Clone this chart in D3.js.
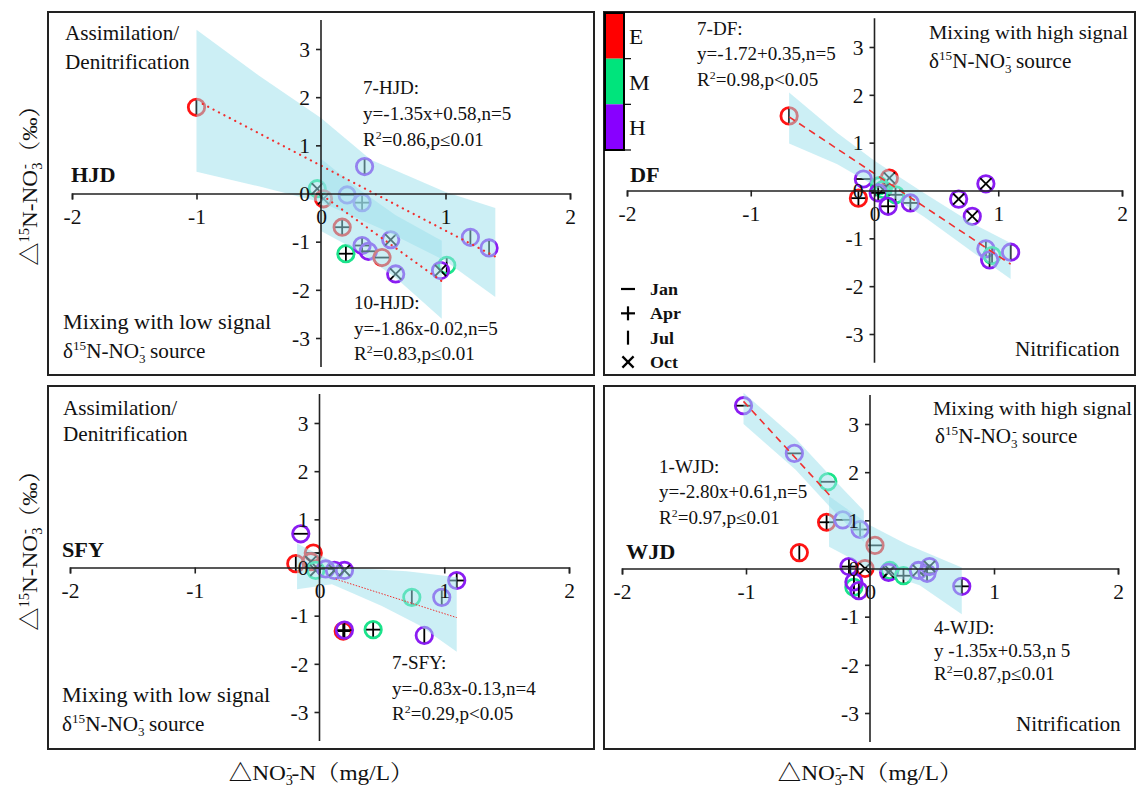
<!DOCTYPE html>
<html><head><meta charset="utf-8">
<script src="https://cdn.jsdelivr.net/npm/d3@7"></script>
<style>
body{margin:0;background:#fff}
svg{display:block}
text{font-family:"Liberation Serif","Times New Roman","Noto Serif CJK SC","Noto Sans CJK SC",serif;fill:#111}
</style>
</head><body>
<svg id="c" width="1136" height="787"></svg>
<script>
// ---------------- data ----------------
const xTicks = [-2, -1, 0, 1, 2];
const yTicks = [-3, -2, -1, 0, 1, 2, 3];
const levels = ['E', 'M', 'H'];
const levelColors = ['#ff1414', '#1be38b', '#8a1cf2'];
const barColors = ['#ff0000', '#00e47c', '#8800ff'];
const months = ['Jan', 'Apr', 'Jul', 'Oct'];

// [ΔNO3-N, Δ15N-NO3, level, month]
const hjdPoints = [
  [-1.00, 1.79, 'E', 'Jul'], [0.35, 0.56, 'H', 'Jul'], [-0.03, 0.10, 'M', 'Oct'],
  [0.02, -0.11, 'E', 'Oct'], [0.21, -0.03, 'H', 'Jan'], [0.33, -0.19, 'H', 'Apr'],
  [0.17, -0.70, 'E', 'Apr'], [0.20, -1.25, 'M', 'Apr'], [0.33, -1.08, 'H', 'Apr'],
  [0.38, -1.20, 'H', 'Jan'], [0.49, -1.33, 'E', 'Jan'], [0.56, -0.96, 'H', 'Oct'],
  [0.60, -1.67, 'H', 'Oct'], [1.01, -1.49, 'M', 'Jul'], [0.96, -1.60, 'H', 'Oct'],
  [1.20, -0.91, 'H', 'Jul'], [1.35, -1.13, 'H', 'Jul']
];
const dfPoints = [
  [-0.69, 1.56, 'E', 'Jul'], [-0.13, -0.16, 'E', 'Apr'], [-0.09, 0.24, 'H', 'Jan'],
  [0.12, 0.26, 'E', 'Oct'], [0.04, 0.10, 'M', 'Jan'], [0.07, 0.02, 'M', 'Oct'],
  [0.03, -0.05, 'H', 'Apr'], [0.17, -0.09, 'M', 'Apr'], [0.11, -0.33, 'H', 'Apr'],
  [0.29, -0.26, 'H', 'Apr'], [0.68, -0.18, 'H', 'Oct'], [0.79, -0.54, 'H', 'Oct'],
  [0.90, 0.14, 'H', 'Oct'], [0.90, -1.22, 'H', 'Jul'], [0.95, -1.36, 'M', 'Jul'],
  [0.93, -1.45, 'H', 'Jul'], [1.10, -1.29, 'H', 'Jul']
];
const sfyPoints = [
  [-0.15, 0.70, 'H', 'Jan'], [-0.05, 0.30, 'E', 'Jan'], [-0.19, 0.08, 'E', 'Jul'],
  [-0.07, 0.12, 'E', 'Oct'], [-0.03, -0.06, 'M', 'Oct'], [0.05, -0.03, 'H', 'Jan'],
  [0.12, -0.06, 'H', 'Oct'], [0.20, -0.06, 'H', 'Oct'], [1.10, -0.27, 'H', 'Apr'],
  [0.74, -0.62, 'M', 'Jul'], [0.98, -0.62, 'H', 'Jul'], [0.19, -1.32, 'E', 'Apr'],
  [0.20, -1.30, 'H', 'Apr'], [0.43, -1.29, 'M', 'Apr'], [0.84, -1.41, 'H', 'Jul']
];
const wjdPoints = [
  [-1.02, 3.38, 'H', 'Jan'], [-0.61, 2.39, 'H', 'Jan'], [-0.34, 1.80, 'M', 'Jan'],
  [-0.35, 0.96, 'E', 'Apr'], [-0.22, 1.01, 'H', 'Jan'], [-0.08, 0.81, 'H', 'Apr'],
  [0.04, 0.48, 'E', 'Jan'], [-0.57, 0.33, 'E', 'Jul'], [-0.17, 0.04, 'H', 'Apr'],
  [-0.04, 0.00, 'E', 'Oct'], [-0.13, -0.39, 'M', 'Jul'], [-0.13, -0.28, 'H', 'Jul'],
  [-0.09, -0.46, 'H', 'Jul'], [0.16, -0.04, 'M', 'Oct'], [0.15, -0.08, 'H', 'Oct'],
  [0.27, -0.15, 'M', 'Apr'], [0.39, -0.04, 'H', 'Oct'], [0.46, -0.10, 'H', 'Apr'],
  [0.48, 0.04, 'H', 'Oct'], [0.74, -0.37, 'H', 'Apr']
];

// confidence bands (upper / lower edges)
const hjdBand1Upper = [[-1, 3.4], [-0.5, 2.45], [0, 1.57], [0.4, 0.7], [1, 0.03], [1.4, -0.3]];
const hjdBand1Lower = [[-1, 0.45], [-0.5, 0.15], [0, -0.18], [0.5, -0.75], [1, -1.4], [1.4, -2.15]];
const hjdBand2Upper = [[0, 0.72], [0.3, 0.1], [0.6, -0.45], [0.97, -0.98]];
const hjdBand2Lower = [[0, -0.78], [0.3, -1.2], [0.6, -1.75], [0.97, -2.6]];
const dfBandUpper = [[-0.69, 2.05], [-0.3, 1.2], [0, 0.62], [0.4, -0.05], [0.8, -0.7], [1.1, -1.1]];
const dfBandLower = [[-0.69, 0.98], [-0.3, 0.55], [0, 0.1], [0.4, -0.55], [0.8, -1.3], [1.1, -1.85]];
const sfyBandUpper = [[-0.18, 0.5], [0.2, 0.0], [0.7, -0.08], [1.1, -0.2]];
const sfyBandLower = [[-0.18, -0.45], [0.1, -0.35], [0.5, -0.8], [0.8, -1.2], [1.1, -1.75]];
const wjdBand1Upper = [[-1.02, 3.65], [-0.6, 2.7], [-0.33, 1.95], [-0.05, 1.2]];
const wjdBand1Lower = [[-1.02, 3.0], [-0.6, 2.05], [-0.33, 1.3], [-0.05, 0.55]];
const wjdBand2Upper = [[-0.33, 1.5], [0, 0.9], [0.3, 0.5], [0.74, 0.02]];
const wjdBand2Lower = [[-0.33, 0.45], [0, 0.0], [0.4, -0.35], [0.74, -0.95]];

// regression lines (endpoints)
const hjdLine7 = [[-0.95, 1.86], [1.4, -1.31]];
const hjdLine10 = [[0.05, -0.11], [0.97, -1.82]];
const dfLine7 = [[-0.69, 1.54], [1.1, -1.54]];
const sfyLine7 = [[0.13, -0.24], [1.1, -1.04]];
const wjdLine1 = [[-1.02, 3.47], [-0.3, 1.45]];

// ---------------- drawing ----------------
const svg = d3.select('#c');
const colorOf = d3.scaleOrdinal().domain(levels).range(levelColors);
const SX = 1.06; // horizontal stretch of the reference lettering

function rich(g, x, y, parts, size, weight, anchor, rot) {
  const t = g.append('text').attr('x', 0).attr('y', 0).attr('font-size', size)
    .attr('font-weight', weight || 'normal').attr('text-anchor', anchor || 'start')
    .attr('transform', `translate(${x},${y}) rotate(${rot || 0}) scale(${SX},1)`);
  let cur = 0;
  parts.forEach(p => {
    const arr = typeof p === 'string' ? [p, 0, 0] : p;
    const s = arr[0], lvl = arr[1] || 0, dx = arr[2] || 0;
    const target = lvl === 1 ? -0.38 * size : lvl === -1 ? 0.24 * size : 0;
    const ts = t.append('tspan').text(s).attr('dy', target - cur);
    if (dx) ts.attr('dx', dx);
    if (lvl) ts.attr('font-size', size * 0.62);
    cur = target;
  });
  return t;
}

function marker(sel, m, s, w) {
  sel.attr('stroke', '#000').attr('stroke-width', w).attr('fill', 'none');
  if (m === 'Jan') sel.append('line').attr('x1', -s).attr('x2', s).attr('y1', 0).attr('y2', 0);
  if (m === 'Apr') {
    sel.append('line').attr('x1', -s).attr('x2', s).attr('y1', 0).attr('y2', 0);
    sel.append('line').attr('x1', 0).attr('x2', 0).attr('y1', -s).attr('y2', s);
  }
  if (m === 'Jul') sel.append('line').attr('x1', 0).attr('x2', 0).attr('y1', -s).attr('y2', s);
  if (m === 'Oct') {
    const k = s * 0.8;
    sel.append('line').attr('x1', -k).attr('x2', k).attr('y1', -k).attr('y2', k);
    sel.append('line').attr('x1', -k).attr('x2', k).attr('y1', k).attr('y2', -k);
  }
}

function panel(cfg) {
  const g = svg.append('g');
  const x = d3.scaleLinear().domain([-2, 2]).range(cfg.xr);
  const y = d3.scaleLinear().domain([3, -3]).range(cfg.yr);

  g.append('rect').attr('x', cfg.frame[0]).attr('y', cfg.frame[1])
    .attr('width', cfg.frame[2] - cfg.frame[0]).attr('height', cfg.frame[3] - cfg.frame[1])
    .attr('fill', 'none').attr('stroke', '#222').attr('stroke-width', 2);

  // points
  const pts = g.append('g').selectAll('g').data(cfg.points).join('g')
    .attr('transform', d => `translate(${x(d[0])},${y(d[1])})`);
  pts.append('circle').attr('r', 8.2).attr('fill', 'none')
    .attr('stroke', d => colorOf(d[2])).attr('stroke-width', 2.8);
  pts.each(function (d) { marker(d3.select(this).append('g'), d[3], 7, 1.8); });

  // bands
  const ln = d3.line().x(p => x(p[0])).y(p => y(p[1]));
  cfg.bands.forEach(b => {
    const poly = b[0].concat(b[1].slice().reverse());
    g.append('path').attr('d', ln(poly) + 'Z').attr('fill', '#9ee0ec').attr('fill-opacity', 0.52);
  });

  // regression lines
  cfg.lines.forEach(l => {
    g.append('path').attr('d', ln(l[0])).attr('fill', 'none').attr('stroke', '#f03030')
      .attr('stroke-width', l[2]).attr('stroke-dasharray', l[1]).attr('stroke-linecap', l[3] || 'butt');
  });

  // axes
  const xa = g.append('g').attr('transform', `translate(0,${y(0)})`)
    .call(d3.axisBottom(x).tickValues(xTicks).tickSize(6).tickSizeOuter(6).tickPadding(9).tickFormat(d => String(d)));
  const ya = g.append('g').attr('transform', `translate(${x(0)},0)`)
    .call(d3.axisLeft(y).tickValues(yTicks).tickSize(5).tickPadding(6).tickFormat(d => String(d)));
  ya.select('.domain').remove();
  g.append('line').attr('x1', x(0)).attr('x2', x(0)).attr('y1', y(3.6)).attr('y2', y(-3.6))
    .attr('stroke', '#222').attr('stroke-width', 1.6);
  [xa, ya].forEach(a => {
    a.selectAll('path,line').attr('stroke', '#222').attr('stroke-width', 1.6);
    a.selectAll('text').attr('font-size', 21.5).attr('font-family', '"Liberation Serif",serif').attr('fill', '#111');
  });
  ya.selectAll('text').attr('dy', '0.34em');

  // site label
  rich(g, cfg.site[1], cfg.site[2], [cfg.site[0]], 21, 'bold');
  return g;
}

const src = ['δ', ['15', 1], 'N-NO', ['3', -1], ['-', 1, -5], ' source'];

// HJD
const gH = panel({
  frame: [48, 12, 594, 375], xr: [72, 570], yr: [49, 338], points: hjdPoints,
  bands: [[hjdBand1Upper, hjdBand1Lower], [hjdBand2Upper, hjdBand2Lower]],
  lines: [[hjdLine7, '0.1,6', 2.2, 'round'], [hjdLine10, '0.1,6', 2.2, 'round']],
  site: ['HJD', 71, 182]
});
rich(gH, 65, 40, ['Assimilation/'], 20);
rich(gH, 65, 69, ['Denitrification'], 20);
rich(gH, 363, 94, ['7-HJD:'], 18);
rich(gH, 363, 120, ['y=-1.35x+0.58,n=5'], 18);
rich(gH, 363, 146, ['R', ['2', 1], '=0.86,p≤0.01'], 18);
rich(gH, 354, 309, ['10-HJD:'], 18);
rich(gH, 354, 335, ['y=-1.86x-0.02,n=5'], 18);
rich(gH, 354, 360, ['R', ['2', 1], '=0.83,p≤0.01'], 18);
rich(gH, 63, 329, ['Mixing with low signal'], 21);
rich(gH, 63, 358, src, 20);

// DF
const gD = panel({
  frame: [604, 12, 1135, 375], xr: [627, 1122], yr: [47, 334], points: dfPoints,
  bands: [[dfBandUpper, dfBandLower]],
  lines: [[dfLine7, '7,5', 1.6]],
  site: ['DF', 630, 182]
});
rich(gD, 697, 35, ['7-DF:'], 18);
rich(gD, 697, 60, ['y=-1.72+0.35,n=5'], 18);
rich(gD, 697, 86, ['R', ['2', 1], '=0.98,p<0.05'], 18);
rich(gD, 929, 39, ['Mixing with high signal'], 19.5);
rich(gD, 929, 68, src, 20);
rich(gD, 1015, 356, ['Nitrification'], 20);
// level colour bar
const barY = d3.scaleBand().domain(levels).range([13, 150]);
gD.append('g').selectAll('rect').data(levels).join('rect')
  .attr('x', 605).attr('y', d => barY(d)).attr('width', 19).attr('height', barY.bandwidth())
  .attr('fill', (d, i) => barColors[i]);
gD.append('rect').attr('x', 605).attr('y', 13).attr('width', 19).attr('height', 137)
  .attr('fill', 'none').attr('stroke', '#000').attr('stroke-width', 2);
gD.append('g').selectAll('line').data(levels).join('line')
  .attr('x1', 624).attr('x2', 631).attr('y1', d => barY(d) + barY.bandwidth())
  .attr('y2', d => barY(d) + barY.bandwidth()).attr('stroke', '#000').attr('stroke-width', 1.2);
levels.forEach(l => rich(gD, 629, barY(l) + barY.bandwidth() / 2 + 8, [l], 22));
// month legend
const monY = d3.scalePoint().domain(months).range([289, 362]);
const ml = gD.append('g').selectAll('g').data(months).join('g')
  .attr('transform', d => `translate(628,${monY(d)})`);
ml.each(function (d) { marker(d3.select(this).append('g'), d, 7, 2.2); });
months.forEach(m => rich(gD, 650, monY(m) + 6, [m], 17, 'bold'));

// SFY
const gS = panel({
  frame: [48, 386, 594, 749], xr: [70, 569], yr: [423, 712], points: sfyPoints,
  bands: [[sfyBandUpper, sfyBandLower]],
  lines: [[sfyLine7, '1.5,1.5', 1]],
  site: ['SFY', 62, 557]
});
rich(gS, 63, 415, ['Assimilation/'], 20);
rich(gS, 63, 441, ['Denitrification'], 20);
rich(gS, 392, 669, ['7-SFY:'], 18);
rich(gS, 392, 695, ['y=-0.83x-0.13,n=4'], 18);
rich(gS, 392, 720, ['R', ['2', 1], '=0.29,p<0.05'], 18);
rich(gS, 62, 702, ['Mixing with low signal'], 21);
rich(gS, 62, 731, src, 20);

// WJD
const gW = panel({
  frame: [604, 386, 1135, 749], xr: [622, 1118], yr: [424, 713], points: wjdPoints,
  bands: [[wjdBand1Upper, wjdBand1Lower], [wjdBand2Upper, wjdBand2Lower]],
  lines: [[wjdLine1, '7,5', 1.6]],
  site: ['WJD', 626, 559]
});
rich(gW, 933, 415, ['Mixing with high signal'], 19.5);
rich(gW, 935, 443, src, 20);
rich(gW, 659, 473, ['1-WJD:'], 18);
rich(gW, 659, 498, ['y=-2.80x+0.61,n=5'], 18);
rich(gW, 659, 524, ['R', ['2', 1], '=0.97,p≤0.01'], 18);
rich(gW, 934, 634, ['4-WJD:'], 18);
rich(gW, 934, 657, ['y  -1.35x+0.53,n  5'], 18);
rich(gW, 934, 680, ['R', ['2', 1], '=0.87,p≤0.01'], 18);
rich(gW, 1016, 731, ['Nitrification'], 20);

// axis titles
const xTitle = ['△NO', ['3', -1], ['-', 1, -6], '-N（mg/L）'];
rich(svg, 321, 780, xTitle, 22, 'normal', 'middle');
rich(svg, 870, 780, xTitle, 22, 'normal', 'middle');
const yTitle = ['△', ['15', 1], 'N-NO', ['3', -1], ['-', 1, -6], '（‰）'];
rich(svg, 37, 180, yTitle, 22, 'normal', 'middle', -90);
rich(svg, 37, 545, yTitle, 22, 'normal', 'middle', -90);
</script>
</body></html>
